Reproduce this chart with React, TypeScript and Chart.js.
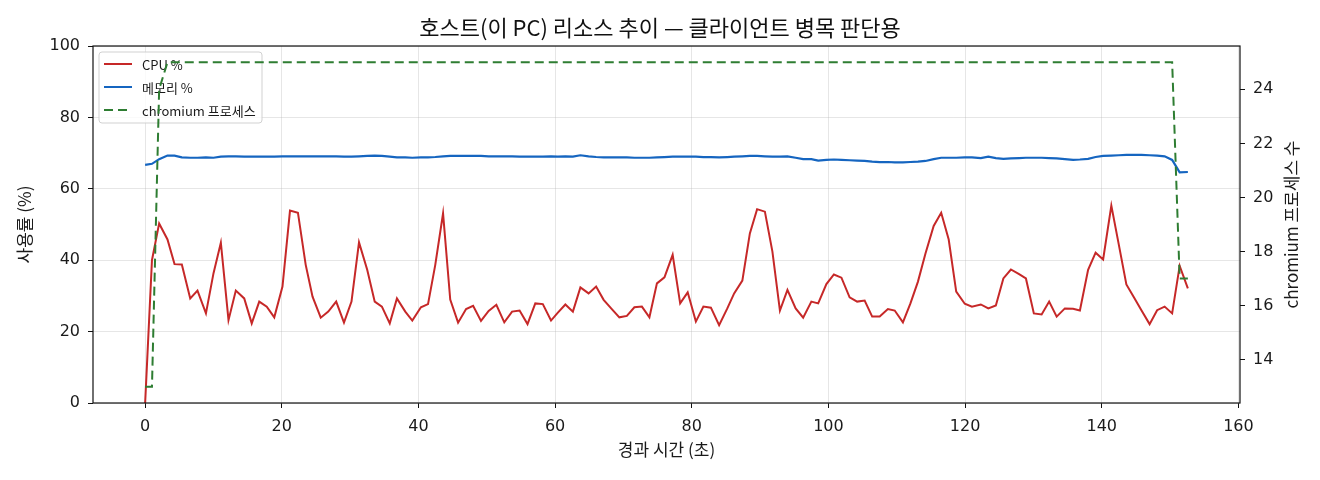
import { useEffect, useRef } from 'react';
import { Chart, registerables } from 'chart.js';

Chart.register(...registerables);

// elapsed seconds of each host sample
const TIMES = [
  0, 1.0, 2.05, 3.27, 4.3, 5.37, 6.6, 7.66, 8.9, 10.0,
  11.08, 12.2, 13.27, 14.5, 15.6, 16.7, 17.8, 18.9, 20.1, 21.2,
  22.36, 23.5, 24.5, 25.7, 26.8, 27.96, 29.1, 30.2, 31.3, 32.5,
  33.6, 34.65, 35.8, 36.85, 38.07, 39.1, 40.36, 41.4, 42.46, 43.6,
  44.65, 45.8, 46.97, 48.0, 49.15, 50.27, 51.4, 52.56, 53.7, 54.8,
  55.96, 57.1, 58.2, 59.4, 60.4, 61.5, 62.6, 63.7, 64.9, 66.0,
  67.1, 68.3, 69.4, 70.5, 71.6, 72.7, 73.8, 74.9, 76.0, 77.2,
  78.3, 79.4, 80.6, 81.7, 82.8, 84.0, 85.2, 86.2, 87.4, 88.5,
  89.56, 90.7, 91.8, 92.9, 94.0, 95.2, 96.3, 97.5, 98.5, 99.7,
  100.8, 101.9, 103.1, 104.2, 105.3, 106.4, 107.5, 108.7, 109.7, 110.9,
  112.0, 113.1, 114.2, 115.4, 116.5, 117.6, 118.7, 119.95, 121.0, 122.3,
  123.4, 124.5, 125.6, 126.7, 127.9, 128.9, 130.06, 131.2, 132.3, 133.4,
  134.6, 135.8, 136.8, 138.0, 139.1, 140.2, 141.4, 142.5, 143.6, 144.7,
  145.8, 147.0, 148.1, 149.2, 150.3, 151.4, 152.6,
];

const CPU = [
  0, 40, 50.3, 45.8, 38.9, 38.8, 29.3, 31.5, 25.1, 36.3,
  44.9, 23.2, 31.5, 29.3, 22.3, 28.4, 27.0, 24.0, 32.6, 53.9,
  53.3, 38.7, 29.8, 23.9, 25.6, 28.4, 22.5, 28.4, 45.0, 37.3,
  28.4, 27.0, 22.3, 29.3, 25.6, 23.1, 26.8, 27.7, 38.7, 53.1,
  29.0, 22.5, 26.3, 27.2, 23.0, 25.8, 27.5, 22.6, 25.6, 25.9,
  22.1, 27.9, 27.7, 23.1, 25.3, 27.6, 25.6, 32.4, 30.7, 32.6,
  28.9, 26.3, 24.0, 24.4, 26.8, 27.0, 24.0, 33.5, 35.2, 41.5,
  27.9, 31.0, 22.8, 27.0, 26.7, 21.8, 26.5, 30.7, 34.3, 47.5,
  54.3, 53.6, 42.4, 25.9, 31.7, 26.5, 23.9, 28.4, 27.9, 33.3,
  36.0, 35.1, 29.6, 28.4, 28.7, 24.2, 24.2, 26.3, 25.9, 22.6,
  27.9, 34.0, 41.9, 49.6, 53.3, 45.8, 31.2, 27.8, 27.0, 27.6,
  26.5, 27.3, 34.9, 37.4, 36.1, 34.9, 25.1, 24.8, 28.4, 24.2,
  26.5, 26.4, 25.9, 37.3, 42.1, 40.2, 55.3, 44.3, 33.2, 29.6,
  26.0, 22.1, 26.0, 27.0, 25.1, 38.4, 32.1,
];

const MEMORY = [
  66.7, 67.0, 68.3, 69.3, 69.3, 68.8, 68.7, 68.7, 68.8, 68.7, 69.0,
  69.1, 69.1, 69.0, 69.0, 69.0, 69.0, 69.0, 69.1, 69.1, 69.1, 69.1,
  69.1, 69.1, 69.1, 69.1, 69.0, 69.0, 69.1, 69.2, 69.3, 69.2, 69.0,
  68.8, 68.8, 68.7, 68.8, 68.8, 68.9, 69.1, 69.2, 69.2, 69.2, 69.2,
  69.2, 69.1, 69.1, 69.1, 69.1, 69.0, 69.0, 69.0, 69.0, 69.1, 69.0,
  69.1, 69.0, 69.4, 69.1, 68.9, 68.8, 68.8, 68.8, 68.8, 68.7, 68.7,
  68.7, 68.8, 68.9, 69.0, 69.0, 69.0, 69.0, 68.9, 68.9, 68.8, 68.9,
  69.0, 69.1, 69.2, 69.2, 69.1, 69.0, 69.0, 69.1, 68.7, 68.3, 68.3,
  67.9, 68.1, 68.2, 68.1, 68.0, 67.9, 67.8, 67.6, 67.5, 67.5, 67.4,
  67.4, 67.5, 67.6, 67.8, 68.3, 68.7, 68.7, 68.7, 68.8, 68.8, 68.6,
  69.0, 68.6, 68.4, 68.5, 68.6, 68.7, 68.7, 68.7, 68.6, 68.5, 68.3,
  68.1, 68.2, 68.4, 68.9, 69.2, 69.3, 69.4, 69.5, 69.5, 69.5, 69.4,
  69.3, 69.1, 68.1, 64.6, 64.7,
];

// chromium process count only changes a few times
const PROC_TIMES = [0, 1.0, 2.05, 3.27, 150.3, 151.4, 152.6];
const PROC_COUNTS = [13, 13, 24, 25, 25, 17, 17];

const X_TICKS = [0, 20, 40, 60, 80, 100, 120, 140, 160];
const PCT_TICKS = [0, 20, 40, 60, 80, 100];
const PROC_TICKS = [14, 16, 18, 20, 22, 24];

const TITLE = '호스트(이 PC) 리소스 추이 — 클라이언트 병목 판단용';
const X_LABEL = '경과 시간 (초)';
const Y_LABEL = '사용률 (%)';
const Y2_LABEL = 'chromium 프로세스 수';
const LEGEND_LABELS = ['CPU %', '메모리 %', 'chromium 프로세스'];

const RED = '#c62828';
const BLUE = '#1565c0';
const GREEN = '#2e7d32';
const DASH = [9, 5];

const KR = '"Noto Sans CJK KR", "Noto Sans", sans-serif';
const NUM = '"DejaVu Sans", "Noto Sans CJK KR", sans-serif';
const TEXT = '#1a1a1a';
const GRID = 'rgba(176, 176, 176, 0.32)';

function pad(min: number, max: number) {
  const m = (max - min) * 0.05;
  return [min - m, max + m];
}

export default function App() {
  const canvasRef = useRef<HTMLCanvasElement>(null);
  const chartRef = useRef<Chart | null>(null);

  useEffect(() => {
    document.body.style.margin = '0';
    if (!canvasRef.current) return;
    const ctx = canvasRef.current.getContext('2d');
    if (!ctx) return;
    if (chartRef.current) chartRef.current.destroy();

    const [xMin, xMax] = pad(Math.min(...TIMES), Math.max(...TIMES));
    const [pMin, pMax] = pad(Math.min(...PROC_COUNTS), Math.max(...PROC_COUNTS));

    // legend sits on the left axes, under the twin-axis line
    const legendPlugin = {
      id: 'innerLegend',
      beforeDatasetDraw(chart: any, args: any) {
        if (args.index !== 2) return;
        const c = chart.ctx;
        const { left, top } = chart.chartArea;
        const bx = left + 6;
        const by = top + 6;
        const bw = 163;
        const bh = 71;
        c.save();
        c.beginPath();
        c.roundRect(bx, by, bw, bh, 3);
        c.fillStyle = 'rgba(255,255,255,0.8)';
        c.fill();
        c.strokeStyle = 'rgba(204,204,204,0.9)';
        c.lineWidth = 1;
        c.stroke();
        const colors = [RED, BLUE, GREEN];
        c.font = `13px ${KR}`;
        c.textBaseline = 'middle';
        LEGEND_LABELS.forEach((label, i) => {
          const y = by + 12 + i * 23;
          c.beginPath();
          c.strokeStyle = colors[i];
          c.lineWidth = 2;
          c.setLineDash(i === 2 ? DASH : []);
          c.moveTo(bx + 5, y);
          c.lineTo(bx + 33, y);
          c.stroke();
          c.setLineDash([]);
          c.fillStyle = TEXT;
          c.fillText(label, bx + 43, y + 1);
        });
        c.restore();
      },
    };

    const framePlugin = {
      id: 'frame',
      afterDraw(chart: any) {
        const c = chart.ctx;
        const { left, right, top, bottom } = chart.chartArea;
        c.save();
        c.strokeStyle = '#111';
        c.lineWidth = 1.2;
        c.strokeRect(left, top, right - left, bottom - top);
        // right axis title, rotated like the left one
        c.translate(1292, (top + bottom) / 2);
        c.rotate(-Math.PI / 2);
        c.font = `17px ${KR}`;
        c.fillStyle = TEXT;
        c.textAlign = 'center';
        c.textBaseline = 'middle';
        c.fillText(Y2_LABEL, 0, 0);
        c.restore();
      },
    };

    chartRef.current = new Chart(ctx, {
      type: 'line',
      data: {
        datasets: [
          {
            label: LEGEND_LABELS[0],
            data: TIMES.map((t, i) => ({ x: t, y: CPU[i] })),
            borderColor: RED,
            borderWidth: 2,
            pointRadius: 0,
            yAxisID: 'y',
            order: 3,
          },
          {
            label: LEGEND_LABELS[1],
            data: TIMES.map((t, i) => ({ x: t, y: MEMORY[i] })),
            borderColor: BLUE,
            borderWidth: 2.2,
            pointRadius: 0,
            yAxisID: 'y',
            order: 2,
          },
          {
            label: LEGEND_LABELS[2],
            data: PROC_TIMES.map((t, i) => ({ x: t, y: PROC_COUNTS[i] })),
            borderColor: GREEN,
            borderWidth: 2,
            borderDash: DASH,
            pointRadius: 0,
            yAxisID: 'y1',
            order: 1,
          },
        ],
      },
      options: {
        animation: false,
        responsive: true,
        maintainAspectRatio: false,
        layout: { padding: 0 },
        plugins: {
          legend: { display: false },
          tooltip: { enabled: false },
          title: {
            display: true,
            text: TITLE,
            color: '#111',
            font: { family: KR, size: 22, weight: 'normal' },
            padding: { top: 14, bottom: 5.6 },
          },
        },
        scales: {
          x: {
            type: 'linear',
            min: xMin,
            max: xMax,
            afterBuildTicks: (s: any) => { s.ticks = X_TICKS.map((v) => ({ value: v })); },
            afterFit: (s: any) => { s.height = 77; },
            ticks: { color: TEXT, font: { family: NUM, size: 16 }, padding: 9 },
            grid: { color: GRID, tickColor: '#111', tickLength: 5, lineWidth: 1 },
            border: { display: false },
            title: {
              display: true,
              text: X_LABEL,
              color: TEXT,
              font: { family: KR, size: 17 },
              padding: { top: 0, bottom: 20 },
            },
          },
          y: {
            type: 'linear',
            position: 'left',
            min: 0,
            max: 100,
            afterBuildTicks: (s: any) => { s.ticks = PCT_TICKS.map((v) => ({ value: v })); },
            afterFit: (s: any) => { s.width = 93; },
            ticks: { color: TEXT, font: { family: NUM, size: 16 }, padding: 8 },
            grid: { color: GRID, tickColor: '#111', tickLength: 5, lineWidth: 1 },
            border: { display: false },
            title: {
              display: true,
              text: Y_LABEL,
              color: TEXT,
              font: { family: KR, size: 17 },
              padding: { top: 14, bottom: 0 },
            },
          },
          y1: {
            type: 'linear',
            position: 'right',
            min: pMin,
            max: pMax,
            afterBuildTicks: (s: any) => { s.ticks = PROC_TICKS.map((v) => ({ value: v })); },
            afterFit: (s: any) => { s.width = 80; },
            ticks: { color: TEXT, font: { family: NUM, size: 16 }, padding: 8 },
            grid: { drawOnChartArea: false, color: 'rgba(0,0,0,0)', tickColor: '#111', tickLength: 5 },
            border: { display: false },
          },
        },
      },
      plugins: [legendPlugin, framePlugin],
    });

    return () => {
      if (chartRef.current) {
        chartRef.current.destroy();
        chartRef.current = null;
      }
    };
  }, []);

  return (
    <div style={{ width: 1320, height: 480, background: '#fff' }}>
      <canvas ref={canvasRef}></canvas>
    </div>
  );
}
